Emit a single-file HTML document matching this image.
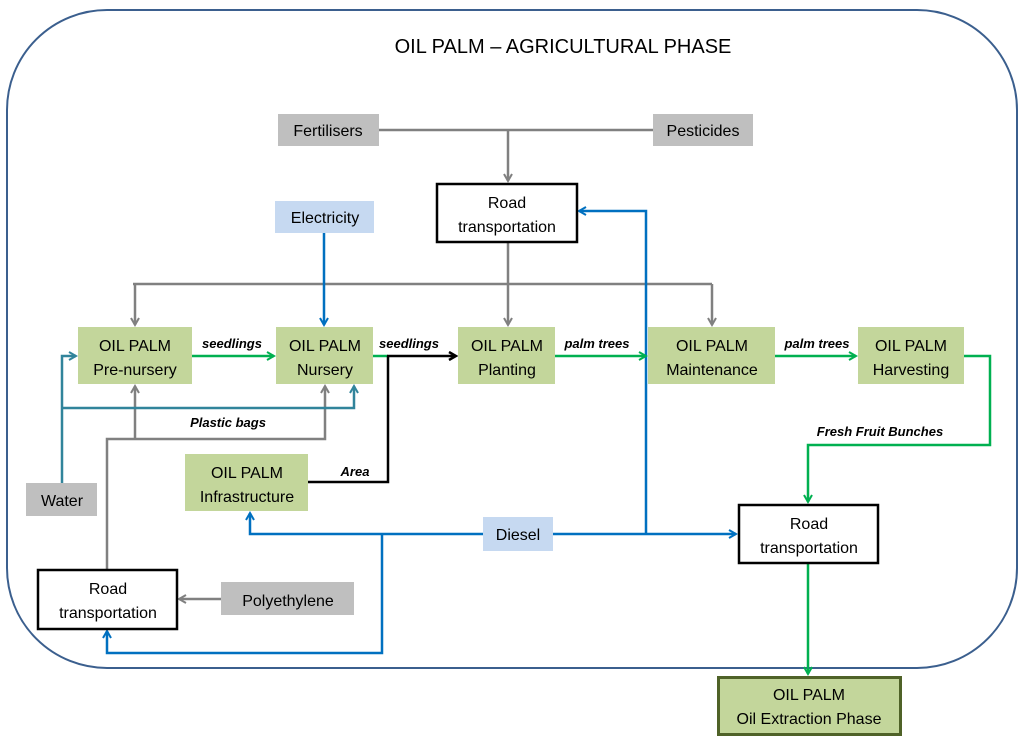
<!DOCTYPE html>
<html><head><style>body{margin:0;background:#fff}svg{display:block}text{font-family:"Liberation Sans",sans-serif}</style></head><body>
<svg width="1024" height="741" viewBox="0 0 1024 741" xmlns="http://www.w3.org/2000/svg">
<defs>
<marker id="ag" markerWidth="10" markerHeight="10" refX="8" refY="5" orient="auto" markerUnits="userSpaceOnUse"><path d="M1,1 L8,5 L1,9" fill="none" stroke="#808080" stroke-width="2"/></marker>
<marker id="ab" markerWidth="10" markerHeight="10" refX="8" refY="5" orient="auto" markerUnits="userSpaceOnUse"><path d="M1,1 L8,5 L1,9" fill="none" stroke="#0070c0" stroke-width="2"/></marker>
<marker id="at" markerWidth="10" markerHeight="10" refX="8" refY="5" orient="auto" markerUnits="userSpaceOnUse"><path d="M1,1 L8,5 L1,9" fill="none" stroke="#31849b" stroke-width="2"/></marker>
<marker id="agr" markerWidth="10" markerHeight="10" refX="8" refY="5" orient="auto" markerUnits="userSpaceOnUse"><path d="M1,1 L8,5 L1,9" fill="none" stroke="#00b050" stroke-width="2"/></marker>
<marker id="ak" markerWidth="10" markerHeight="10" refX="8" refY="5" orient="auto" markerUnits="userSpaceOnUse"><path d="M1,1 L8,5 L1,9" fill="none" stroke="#000" stroke-width="2.5"/></marker>
</defs>
<rect x="7" y="10" width="1010" height="658" rx="100" fill="none" stroke="#3b5f8e" stroke-width="2"/>
<text x="563" y="53" font-size="20" text-anchor="middle">OIL PALM – AGRICULTURAL PHASE</text>

<g fill="none" stroke-width="2.5">
<!-- gray -->
<g stroke="#808080">
<path d="M379,130 H653"/>
<path d="M508,130 V181" marker-end="url(#ag)"/>
<path d="M508,242 V284 M133,284 H712"/>
<path d="M135,284 V325" marker-end="url(#ag)"/>
<path d="M508,284 V325" marker-end="url(#ag)"/>
<path d="M712,284 V325" marker-end="url(#ag)"/>
<path d="M107,570 V439 H325 V386" marker-end="url(#ag)"/>
<path d="M135,439 V386" marker-end="url(#ag)"/>
<path d="M221,599 H179" marker-end="url(#ag)"/>
</g>
<!-- teal -->
<g stroke="#31849b">
<path d="M62,483 V356 H76" marker-end="url(#at)"/>
<path d="M62,408 H354 V386" marker-end="url(#at)"/>
</g>
<!-- blue -->
<g stroke="#0070c0">
<path d="M324,233 V325" marker-end="url(#ab)"/>
<path d="M483,534 H250 V513" marker-end="url(#ab)"/>
<path d="M382,534 V653 H107 V631" marker-end="url(#ab)"/>
<path d="M553,534 H736" marker-end="url(#ab)"/>
<path d="M646,534 V211 H579" marker-end="url(#ab)"/>
</g>
<!-- green -->
<g stroke="#00b050">
<path d="M192,356 H274" marker-end="url(#agr)"/>
<path d="M555,356 H646" marker-end="url(#agr)"/>
<path d="M775,356 H856" marker-end="url(#agr)"/>
<path d="M373,356 H388"/>
<path d="M964,356 H990 V445 H808 V502" marker-end="url(#agr)"/>
<path d="M808,563 V674" marker-end="url(#agr)"/>
</g>
<path d="M387,356 H456" stroke="#000" marker-end="url(#ak)"/>
<path d="M388,356 V482 H308" stroke="#000"/>
</g>

<!-- boxes -->
<g fill="#bfbfbf">
<rect x="278" y="114" width="101" height="32"/>
<rect x="653" y="114" width="100" height="32"/>
<rect x="26" y="483" width="71" height="33"/>
<rect x="221" y="582" width="133" height="33"/>
</g>
<g fill="#c6d9f1">
<rect x="275" y="201" width="99" height="32"/>
<rect x="483" y="517" width="70" height="34"/>
</g>
<g fill="#c3d69b">
<rect x="78" y="327" width="114" height="57"/>
<rect x="276" y="327" width="97" height="57"/>
<rect x="458" y="327" width="97" height="57"/>
<rect x="648" y="327" width="127" height="57"/>
<rect x="858" y="327" width="106" height="57"/>
<rect x="185" y="454" width="123" height="57"/>
<rect x="718.5" y="677.5" width="182" height="57" stroke="#4f6228" stroke-width="3"/>
</g>
<g fill="#fff" stroke="#000" stroke-width="2.5">
<rect x="437" y="184" width="140" height="58"/>
<rect x="38" y="570" width="139" height="59"/>
<rect x="739" y="505" width="139" height="58"/>
</g>

<g font-size="16" text-anchor="middle" fill="#000">
<text x="328" y="136">Fertilisers</text>
<text x="703" y="136">Pesticides</text>
<text x="325" y="223">Electricity</text>
<text x="62" y="506">Water</text>
<text x="288" y="606">Polyethylene</text>
<text x="518" y="540">Diesel</text>
<text x="507" y="208">Road</text><text x="507" y="232">transportation</text>
<text x="108" y="594">Road</text><text x="108" y="618">transportation</text>
<text x="809" y="529">Road</text><text x="809" y="553">transportation</text>
<text x="135" y="351">OIL PALM</text><text x="135" y="375">Pre-nursery</text>
<text x="325" y="351">OIL PALM</text><text x="325" y="375">Nursery</text>
<text x="507" y="351">OIL PALM</text><text x="507" y="375">Planting</text>
<text x="712" y="351">OIL PALM</text><text x="712" y="375">Maintenance</text>
<text x="911" y="351">OIL PALM</text><text x="911" y="375">Harvesting</text>
<text x="247" y="478">OIL PALM</text><text x="247" y="502">Infrastructure</text>
<text x="809" y="700">OIL PALM</text><text x="809" y="724">Oil Extraction Phase</text>
</g>
<g font-size="13" font-style="italic" font-weight="bold" text-anchor="middle">
<text x="232" y="348">seedlings</text>
<text x="409" y="348">seedlings</text>
<text x="597" y="348">palm trees</text>
<text x="817" y="348">palm trees</text>
<text x="228" y="427">Plastic bags</text>
<text x="355" y="476">Area</text>
<text x="880" y="436">Fresh Fruit Bunches</text>
</g>
</svg>
</body></html>
